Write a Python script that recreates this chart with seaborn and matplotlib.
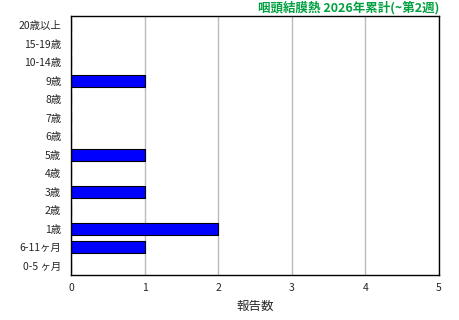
import matplotlib
matplotlib.use("Agg")
import matplotlib.pyplot as plt
import seaborn as sns
import pandas as pd

categories = ["20歳以上", "15-19歳", "10-14歳", "9歳", "8歳", "7歳", "6歳", "5歳",
              "4歳", "3歳", "2歳", "1歳", "6-11ヶ月", "0-5 ヶ月"]
counts = [0, 0, 0, 1, 0, 0, 0, 1, 0, 1, 0, 2, 1, 0]
xticks = [0, 1, 2, 3, 4, 5]
title = "咽頭結膜熱 2026年累計(~第2週)"
xlabel = "報告数"

sns.set_theme(style="white")
plt.rcParams['font.family'] = ['Noto Sans CJK JP', 'DejaVu Sans']

df = pd.DataFrame({"age": categories, "count": counts})

fig = plt.figure(figsize=(4.6, 3.2), dpi=100)
ax = fig.add_axes([71/460, 1-275/320, (439-71)/460, (275-16)/320])
sns.barplot(data=df, x="count", y="age", order=categories, orient="h",
            color="#0000FF", edgecolor="black", linewidth=0.8, width=0.65,
            saturation=1, ax=ax)
ax.set_xlim(0, 5)
ax.set_xticks(xticks)
ax.set_xticklabels([str(t) for t in xticks], fontsize=7.5)
ax.tick_params(axis='x', direction='in', length=3, color='black', pad=6)
ax.tick_params(axis='y', length=0, labelsize=7.5, pad=7)
ax.xaxis.grid(True, color='#bbbbbb', linewidth=1)
ax.set_axisbelow(True)
for s in ax.spines.values():
    s.set_color('black')
    s.set_linewidth(1)
ax.set_ylabel("")
ax.set_xlabel(xlabel, fontsize=9, labelpad=5)
fig.text(439/460, 1-8/320, title, ha='right', va='center', color='#00A040',
         fontsize=9, fontweight='bold')
fig.savefig("out.png", dpi=100)
